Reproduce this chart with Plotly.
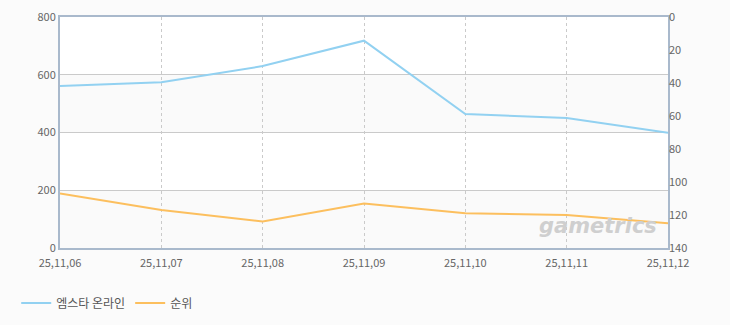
import plotly.graph_objects as go

dates = ["25,11,06", "25,11,07", "25,11,08", "25,11,09", "25,11,10", "25,11,11", "25,11,12"]
users = [561, 574, 630, 718, 464, 450, 399]
rank = [107, 117, 124, 113, 119, 120, 125]

blue = "#92d1f1"
orange = "#fcbf5e"
axis_col = "#a9b9cc"
grid_col = "#cacaca"
font = dict(family="Noto Sans CJK KR, DejaVu Sans, sans-serif", size=11, color="#666666")

fig = go.Figure()
fig.add_trace(go.Scatter(x=dates, y=users, name="엠스타 온라인", mode="lines",
                         line=dict(color=blue, width=2), yaxis="y"))
fig.add_trace(go.Scatter(x=dates, y=rank, name="순위", mode="lines",
                         line=dict(color=orange, width=2), yaxis="y2"))

# alternating background bands
for lo, hi in [(0, 200), (400, 600)]:
    fig.add_shape(type="rect", xref="paper", yref="y", x0=0, x1=1, y0=lo, y1=hi,
                  fillcolor="#fafafa", line=dict(width=0), layer="below")

fig.add_annotation(text="gametrics", xref="paper", yref="paper", x=0.985, y=0.035,
                   xanchor="right", yanchor="bottom", showarrow=False,
                   font=dict(family="DejaVu Sans, sans-serif", size=21, color="#cfcfcf",
                             style="italic", weight="bold"))

fig.update_layout(
    width=730, height=325,
    margin=dict(l=60, r=62, t=17, b=77, autoexpand=False),
    paper_bgcolor="#fbfbfb",
    plot_bgcolor="#ffffff",
    font=font,
    showlegend=True,
    hovermode=False,
    legend=dict(orientation="h", x=-0.072, xanchor="left", y=-0.175, yanchor="top",
                font=dict(family="Noto Sans CJK KR, sans-serif", size=12, color="#555555"),
                bgcolor="rgba(0,0,0,0)", itemwidth=30),
    xaxis=dict(type="category", range=[0, 6], showgrid=True, gridcolor=grid_col,
               griddash="3px,3px", gridwidth=1, showline=True, linecolor=axis_col,
               linewidth=2, mirror=True, ticks="", tickfont=font, zeroline=False,
               automargin=False, ticklabelstandoff=4),
    yaxis=dict(range=[0, 800], dtick=200, showgrid=True, gridcolor=grid_col,
               gridwidth=1, showline=True, linecolor=axis_col, linewidth=2,
               mirror=True, ticks="", tickfont=font, zeroline=False,
               automargin=False, ticklabelstandoff=0),
    yaxis2=dict(range=[140, 0], dtick=20, overlaying="y", side="right",
                showgrid=False, showline=False, ticks="", tickfont=font, zeroline=False,
                automargin=False, ticklabelstandoff=0),
)

fig.write_html("out.html")
